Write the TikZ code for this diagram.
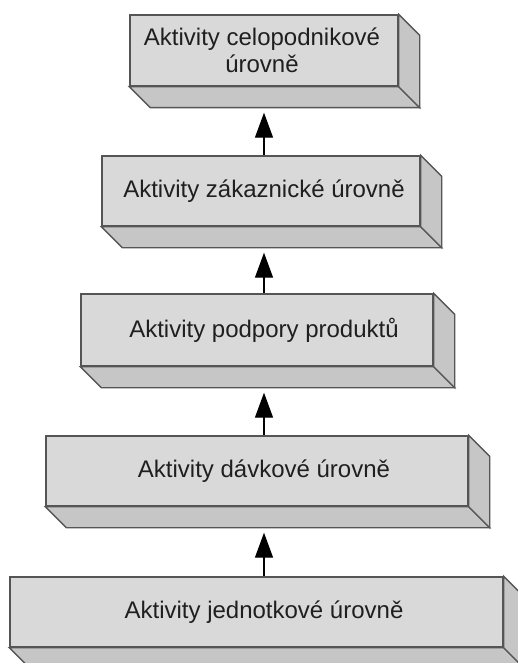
\documentclass[tikz,border=0pt]{standalone}
\usepackage{fontspec}
\setmainfont{Liberation Sans}
\usetikzlibrary{arrows.meta,calc}

\definecolor{edge}{HTML}{555555}
\definecolor{frontgrey}{HTML}{D9D9D9}
\definecolor{sidegrey}{HTML}{C6C6C6}

\tikzset{
  face/.style={rectangle, draw=edge, fill=frontgrey, line width=1.4pt, inner sep=0pt},
  side/.style={draw=edge, fill=sidegrey, line width=1.4pt, line join=miter},
  caption/.style={font=\fontsize{24}{27}\selectfont, text=black!88, align=center, inner sep=0pt},
  arr/.style={-{Triangle[length=25pt,width=18pt]}, line width=1.3pt, draw=black, shorten >=5pt}
}

\begin{document}
\begin{tikzpicture}[x=1pt, y=-1pt]
  \useasboundingbox (0,0) rectangle (518,663);
  \clip (0,0) rectangle (518,663);

  % extruded level boxes: name / front-face corners / caption x / caption
  \foreach \n/\xa/\ya/\xb/\yb/\tx/\txt in {
      1/130/15/398/86/262/{Aktivity celopodnikové\\úrovně},
      2/102/156/420/226/264/{Aktivity zákaznické úrovně},
      3/81/294/433/366/264/{Aktivity podpory produktů},
      4/46/436/468/506/264/{Aktivity dávkové úrovně},
      5/10/577/503/647/264/{Aktivity jednotkové úrovně}} {
    \node[face, minimum width={(\xb-\xa)*1pt}, minimum height={(\yb-\ya)*1pt}]
      (b\n) at ({(\xa+\xb)/2}, {(\ya+\yb)/2}) {};
    % bottom and right faces of the block
    \draw[side] (b\n.south west) -- ++(21,21) -- ($(b\n.south east)+(21,21)$)
      -- (b\n.south east) -- cycle;
    \draw[side] (b\n.north east) -- ++(21,21) -- ($(b\n.south east)+(21,21)$)
      -- (b\n.south east) -- cycle;
    \coordinate (d\n) at ($(b\n.south west)+(21,21)$);
    \node[caption] (t\n) at (\tx, {(\ya+\yb)/2}) {\txt};
  }

  % upward arrows between the levels
  \coordinate (ax) at (264,0);
  \foreach \lo/\hi in {5/4, 4/3, 3/2, 2/1} {
    \draw[arr] (ax |- b\lo.north) -- (ax |- d\hi);
  }
\end{tikzpicture}
\end{document}
